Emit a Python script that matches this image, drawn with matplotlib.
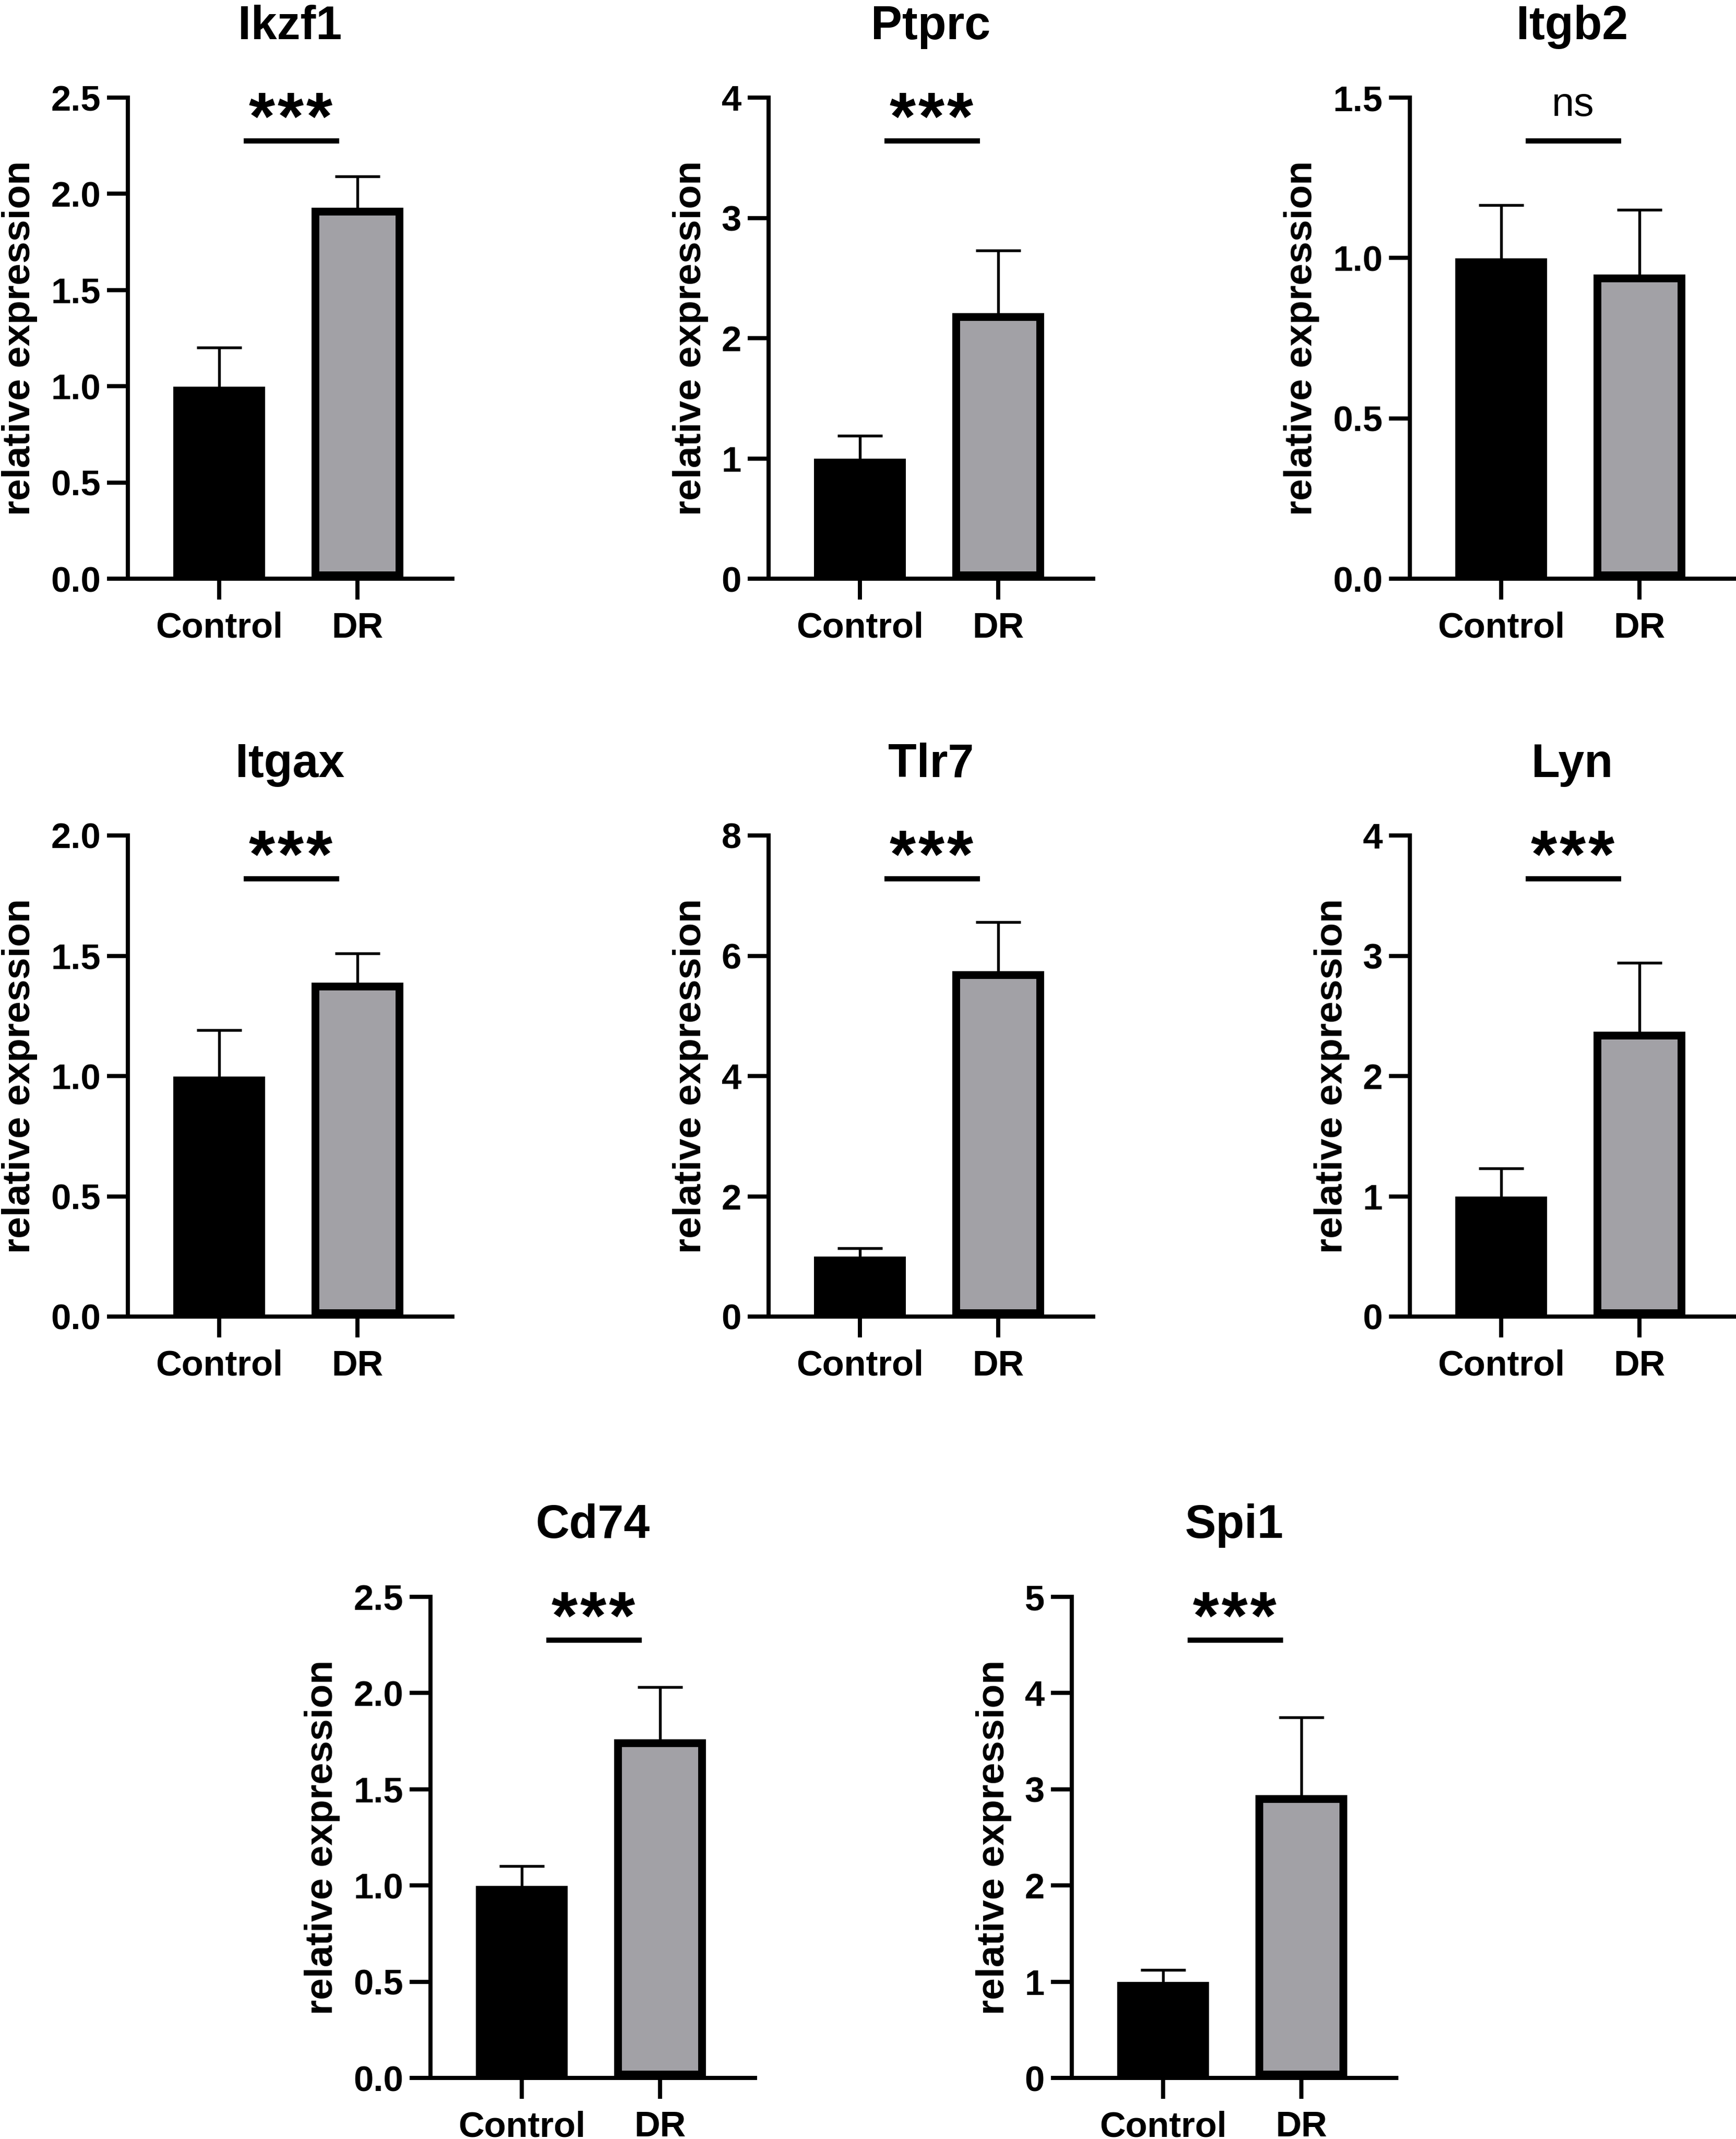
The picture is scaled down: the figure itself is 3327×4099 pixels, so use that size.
import matplotlib
matplotlib.use("Agg")
import matplotlib.pyplot as plt

plt.rcParams['font.family'] = ['Liberation Sans', 'DejaVu Sans']

# data
genes = ['Ikzf1', 'Ptprc', 'Itgb2', 'Itgax', 'Tlr7', 'Lyn', 'Cd74', 'Spi1']
groups = ['Control', 'DR']
means = {
    'Ikzf1': [1.0, 1.93],
    'Ptprc': [1.0, 2.21],
    'Itgb2': [1.0, 0.95],
    'Itgax': [1.0, 1.39],
    'Tlr7': [1.0, 5.75],
    'Lyn': [1.0, 2.37],
    'Cd74': [1.0, 1.76],
    'Spi1': [1.0, 2.94],
}
errors = {
    'Ikzf1': [0.20, 0.16],
    'Ptprc': [0.19, 0.52],
    'Itgb2': [0.165, 0.20],
    'Itgax': [0.19, 0.12],
    'Tlr7': [0.14, 0.81],
    'Lyn': [0.23, 0.57],
    'Cd74': [0.10, 0.27],
    'Spi1': [0.12, 0.81],
}
yticks = {
    'Ikzf1': [0.0, 0.5, 1.0, 1.5, 2.0, 2.5],
    'Ptprc': [0, 1, 2, 3, 4],
    'Itgb2': [0.0, 0.5, 1.0, 1.5],
    'Itgax': [0.0, 0.5, 1.0, 1.5, 2.0],
    'Tlr7': [0, 2, 4, 6, 8],
    'Lyn': [0, 1, 2, 3, 4],
    'Cd74': [0.0, 0.5, 1.0, 1.5, 2.0, 2.5],
    'Spi1': [0, 1, 2, 3, 4, 5],
}
ytick_labels = {
    'Ikzf1': ['0.0', '0.5', '1.0', '1.5', '2.0', '2.5'],
    'Ptprc': ['0', '1', '2', '3', '4'],
    'Itgb2': ['0.0', '0.5', '1.0', '1.5'],
    'Itgax': ['0.0', '0.5', '1.0', '1.5', '2.0'],
    'Tlr7': ['0', '2', '4', '6', '8'],
    'Lyn': ['0', '1', '2', '3', '4'],
    'Cd74': ['0.0', '0.5', '1.0', '1.5', '2.0', '2.5'],
    'Spi1': ['0', '1', '2', '3', '4', '5'],
}
signif = {
    'Ikzf1': '***', 'Ptprc': '***', 'Itgb2': 'ns', 'Itgax': '***',
    'Tlr7': '***', 'Lyn': '***', 'Cd74': '***', 'Spi1': '***',
}

W, H = 3327, 4099
DPI = 300
fig = plt.figure(figsize=(W / DPI, H / DPI), dpi=DPI)

# panel placement in pixels: (y-axis x, x-axis y)
lefts = [245, 1473, 2702, 245, 1473, 2702, 825, 2054]
bottoms = [1109, 1109, 1109, 2523, 2523, 2523, 3982, 3982]
ax_w, ax_h = 622, 922

bar_colors = ['black', '#a2a1a6']
spine_lw = 1.9
edge_lw = 3.6

for g, lx, by in zip(genes, lefts, bottoms):
    ax = fig.add_axes([lx / W, 1 - by / H, ax_w / W, ax_h / H])
    x = [0, 1]
    ymax = yticks[g][-1]
    # Prism draws the bar border inside the bar: shift by half the edge width
    half = (edge_lw / 2 * DPI / 72) / ax_h * ymax
    heights = [m - 2 * half for m in means[g]]
    inner = [m - 2 * half for m in means[g]]
    up = [m + e - i for m, e, i in zip(means[g], errors[g], inner)]

    # error bars start inside the bar so the lower cap is hidden
    ax.errorbar(x, inner, yerr=[[0, 0], up], fmt='none', ecolor='black',
                elinewidth=1.3, capsize=10.3, capthick=1.3, zorder=2)
    ax.bar(x, heights, bottom=half, width=0.607, color=bar_colors, edgecolor='black',
           linewidth=edge_lw, zorder=3)

    ax.set_xlim(-0.66, 1.687)
    ax.set_ylim(0, ymax)
    ax.set_yticks(yticks[g])
    ax.set_yticklabels(ytick_labels[g])
    ax.set_xticks(x)
    ax.set_xticklabels(groups)

    for s in ['top', 'right']:
        ax.spines[s].set_visible(False)
    for s in ['left', 'bottom']:
        ax.spines[s].set_linewidth(spine_lw)
        ax.spines[s].set_zorder(4)
    # x axis runs left to the tick ends, Prism style
    ax.plot([-0.064, 0], [0, 0], transform=ax.transAxes, color='black',
            lw=spine_lw, solid_capstyle='butt', clip_on=False)

    ax.tick_params(axis='both', direction='out', length=9.5, width=spine_lw,
                   labelsize=16.5)
    ax.tick_params(axis='y', pad=3)
    ax.tick_params(axis='x', pad=5.5)
    for lab in ax.get_xticklabels() + ax.get_yticklabels():
        lab.set_fontweight('bold')

    ax.set_ylabel('relative expression', fontsize=18, fontweight='bold', labelpad=6)
    ax.set_title(g, fontsize=21.5, fontweight='bold', pad=27)

    # significance bar
    ax.plot([0.177, 0.868], [0.91, 0.91], transform=ax.get_xaxis_transform(),
            color='black', lw=2.4, solid_capstyle='butt', clip_on=False)
    if signif[g] == 'ns':
        ax.text(0.52, 0.962, 'ns', transform=ax.get_xaxis_transform(),
                ha='center', va='baseline', fontsize=18.5)
    else:
        # Prism sets the asterisks a little apart
        n = len(signif[g])
        for k in range(n):
            ax.text(0.517 + (k - (n - 1) / 2) * 0.2075, 0.913, '*',
                    transform=ax.get_xaxis_transform(), ha='center',
                    va='baseline', fontsize=31, fontweight='bold')

fig.savefig('out.png', dpi=DPI)
